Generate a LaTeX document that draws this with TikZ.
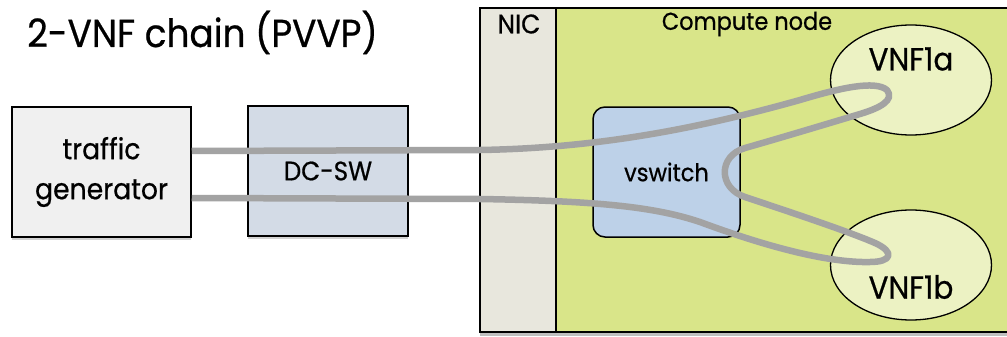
\documentclass[tikz,border=0pt]{standalone}
\usepackage{fontspec}
\setmainfont{Poppins}[FakeStretch=0.92,FakeBold=0.6]
\usetikzlibrary{shadows,shapes.geometric}
\definecolor{tgfill}{HTML}{F0F0F0}
\definecolor{swfill}{HTML}{D3DBE6}
\definecolor{nicfill}{HTML}{E8E7DD}
\definecolor{cnfill}{HTML}{D9E589}
\definecolor{vswfill}{HTML}{BDD1E8}
\definecolor{vnffill}{HTML}{ECF2C3}
\definecolor{wire}{HTML}{A3A3A3}
\begin{document}
\begin{tikzpicture}[x=1pt,y=-1pt,
  shadowed/.style={drop shadow={opacity=0.35,shadow xshift=0pt,shadow yshift=-2.5pt}},
  plainbox/.style={draw=black,line width=1.5pt,inner sep=0pt,align=center},
  vnf/.style={draw=black,line width=1.3pt,ellipse,fill=vnffill,inner sep=0pt,minimum width=161pt,minimum height=110pt},
  wireline/.style={draw=wire,line width=6.5pt,line cap=butt,line join=round}]
\useasboundingbox (0,0) rectangle (1007,337);
\fill[white] (0,0) rectangle (1007,337);
% title
\node[anchor=base west,inner sep=0pt,font=\fontsize{39}{46}\selectfont] (title) at (27,47) {2-VNF chain (PVVP)};
% outer compute box
\fill[black,opacity=0.25] (480,11) rectangle (1012,335.5);
\fill[nicfill] (480,8) rectangle (556,332);
\fill[cnfill] (556,8) rectangle (1012,332);
\draw[line width=1.8pt] (1012,8) -- (480,8) -- (480,332) -- (1012,332);
\draw[line width=1.8pt] (556,8) -- (556,332);
\node[font=\fontsize{27}{32}\selectfont,inner sep=0pt] (nic) at (519,24) {NIC};
\node[font=\fontsize{24.4}{30}\selectfont,inner sep=0pt] (cn) at (747,24) {Compute node};
% boxes
\node[plainbox,shadowed,fill=tgfill,minimum width=179pt,minimum height=130pt,font=\fontsize{29}{40}\selectfont] (tg) at (101.5,172) {traffic\\generator};
\node[plainbox,shadowed,fill=swfill,minimum width=160pt,minimum height=130pt,font=\fontsize{26.7}{32}\selectfont] (dcsw) at (328,171) {DC-SW};
\node[plainbox,fill=vswfill,rounded corners=12pt,minimum width=147pt,minimum height=130pt,font=\fontsize{24.5}{30}\selectfont] (vsw) at (666.5,172) {vswitch};
\node[vnf,label={[font=\fontsize{32}{36}\selectfont,yshift=21pt]center:VNF1a}] (vnfa) at (911,80) {};
\node[vnf,label={[font=\fontsize{32}{36}\selectfont,yshift=-22pt]center:VNF1b}] (vnfb) at (911,265) {};
% wire
\coordinate (s1) at (tg.east |- 0,151);
\coordinate (s2) at (tg.east |- 0,198);
\path[wireline] (s1) -- (480,150)
  .. controls (600,148) and (700,128) .. (800,100)
  .. controls (840,88) and (875,80) .. (887,90)
  .. controls (895,100) and (880,108) .. (860,114)
  .. controls (820,126) and (780,138) .. (745,148)
  .. controls (718,156) and (718,188) .. (745,197)
  .. controls (790,212) and (850,232) .. (875,243)
  .. controls (895,252) and (892,262) .. (870,262)
  .. controls (830,263) and (770,248) .. (700,222)
  .. controls (655,207) and (600,201) .. (480,199)
  -- (s2);
\end{tikzpicture}
\end{document}
